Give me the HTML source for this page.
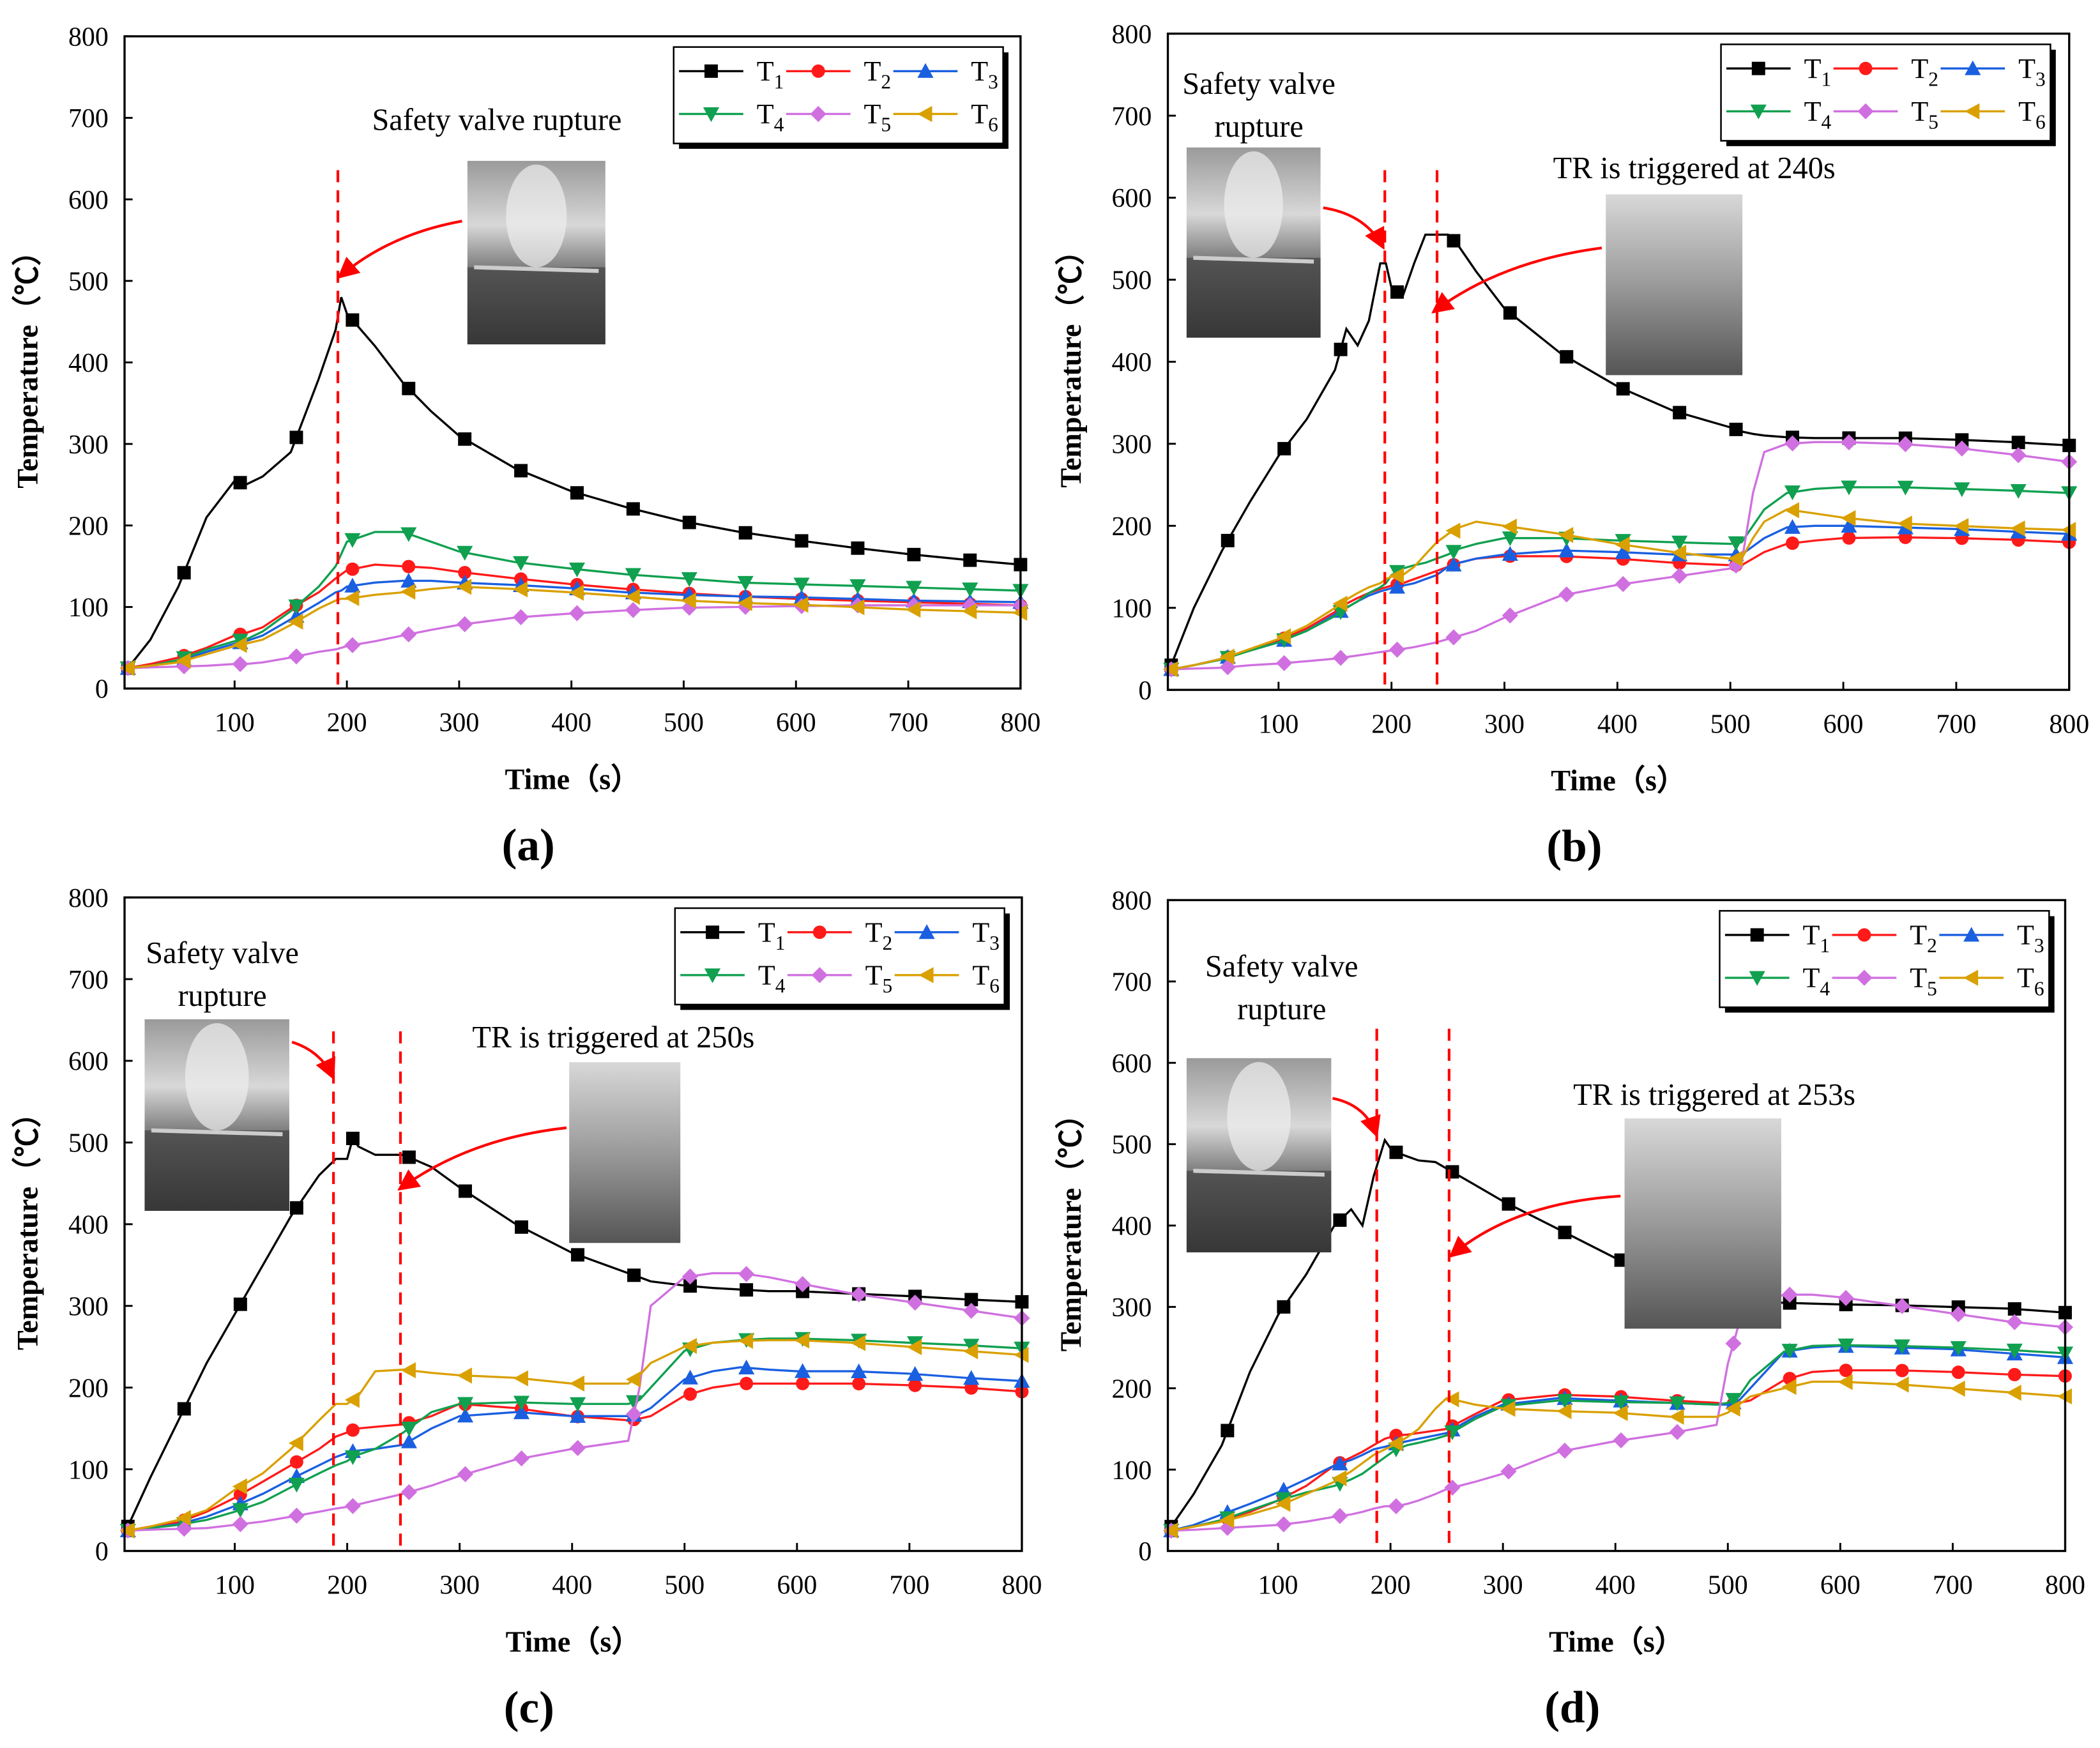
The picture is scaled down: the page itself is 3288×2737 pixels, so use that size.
<!DOCTYPE html>
<html><head><meta charset="utf-8"><style>
html,body{margin:0;padding:0;background:#fff}
svg{display:block}
text{font-family:"Liberation Serif",serif}
</style></head><body>
<svg id="fig" width="3288" height="2737" viewBox="0 0 1568 1305" xmlns="http://www.w3.org/2000/svg">
<defs>
<linearGradient id="smoke" x1="0" y1="0" x2="0" y2="1"><stop offset="0" stop-color="#9a9a9a"/><stop offset="0.35" stop-color="#d8d8d8"/><stop offset="0.6" stop-color="#777"/><stop offset="1" stop-color="#333"/></linearGradient>
<linearGradient id="fog" x1="0" y1="0" x2="0" y2="1"><stop offset="0" stop-color="#d8d8d8"/><stop offset="0.5" stop-color="#9a9a9a"/><stop offset="1" stop-color="#555"/></linearGradient>
<marker id="ah" viewBox="0 0 10 10" refX="9" refY="5" markerWidth="8" markerHeight="8" orient="auto"><path d="M0,0 L10,5 L0,10 z" fill="#f00"/></marker>
</defs>
</svg>
<script>
const colors=["#000","#ff1a1a","#1a5fe0","#10a050","#d070e0","#d9a000"];
const markerShapes=["sq","ci","tu","td","di","tl"];
// Panel a
const timesA=[5,25,50,75,100,110,125,150,175,190,195,200,225,250,275,300,350,400,450,500,550,600,650,700,750,800];
const a1=[25,60,125,210,255,250,260,290,380,440,480,460,420,375,340,310,270,242,222,205,192,182,173,165,158,152];
const a2=[25,30,38,50,65,68,75,98,118,135,140,145,152,150,148,143,135,128,122,117,113,110,108,106,104,102];
const a3=[25,28,33,45,55,58,65,85,105,118,120,125,130,132,132,130,127,123,118,115,113,112,110,108,107,106];
const a4=[25,28,35,48,58,60,70,95,125,150,165,180,192,192,180,168,155,147,140,135,130,128,126,124,122,120];
const a5=[25,26,27,28,30,30,32,38,45,48,50,52,58,65,72,78,87,92,96,99,100,101,102,102,102,102];
const a6=[25,28,32,42,52,55,60,78,98,108,110,110,115,118,122,125,122,118,113,108,105,103,100,97,95,93];
// Panel b
const timesB=[5,25,50,75,100,125,150,160,170,180,190,195,200,210,220,230,240,250,260,275,300,350,400,450,500,510,520,530,550,575,600,650,700,750,800];
const b1=[30,100,170,230,285,330,390,440,420,450,520,520,490,480,520,555,555,555,540,510,465,410,370,340,320,315,312,310,308,307,307,307,305,302,298];
const b2=[25,30,38,48,60,75,95,105,112,118,123,125,127,130,135,140,145,150,155,160,163,163,160,155,152,152,160,168,178,182,185,186,185,183,180];
const b3=[25,30,38,48,58,72,92,100,108,115,120,122,124,127,130,135,140,150,155,160,165,170,168,165,165,165,175,185,198,200,200,198,196,193,190];
const b4=[25,30,37,48,58,72,90,100,108,118,125,130,140,148,152,155,160,165,172,178,185,185,182,180,178,180,200,220,240,245,247,247,245,243,240];
const b5=[25,26,27,30,32,35,38,40,42,44,46,47,48,50,52,55,58,62,66,72,88,115,128,138,148,155,240,290,300,302,302,300,295,287,278];
const b6=[25,30,38,50,62,78,100,110,118,125,130,135,138,140,150,165,180,190,198,205,200,190,178,168,160,160,185,205,220,215,210,203,200,197,195];
// Panel c
const timesC=[5,25,50,75,100,125,150,175,190,200,205,210,225,250,275,300,350,400,450,460,470,500,525,550,575,600,650,700,750,800];
const c1=[30,90,160,230,290,350,410,460,480,480,505,495,485,485,470,445,400,365,340,335,330,325,322,320,318,318,315,312,308,305];
const c2=[25,30,35,48,65,85,105,125,140,145,148,150,152,155,165,180,175,165,160,162,165,190,200,205,205,205,205,203,200,195];
const c3=[25,28,33,42,55,70,88,105,115,120,122,123,125,130,150,165,170,165,165,168,175,210,220,225,222,220,220,217,212,208];
const c4=[25,28,32,38,48,60,78,95,105,110,115,118,125,145,170,180,182,180,180,185,200,245,255,258,260,260,258,255,252,248];
const c5=[25,26,27,28,32,36,42,48,52,54,55,57,62,70,80,92,112,125,135,200,300,335,340,340,335,328,315,305,295,285];
const c6=[25,30,38,50,75,95,125,160,180,180,185,190,220,222,218,215,212,205,205,215,230,250,255,257,258,258,255,250,245,240];
// Panel d
const timesD=[5,25,50,75,100,125,150,165,175,185,195,200,205,215,225,240,250,275,300,350,400,450,490,500,510,520,550,575,600,650,700,750,800];
const d1=[30,70,130,220,290,340,400,420,400,460,505,495,490,485,480,478,470,450,430,395,360,335,320,315,310,308,305,304,303,302,300,298,293];
const d2=[25,30,38,48,62,80,105,115,122,130,138,140,142,143,145,148,150,168,185,192,190,185,182,180,182,185,210,220,222,222,220,217,215];
const d3=[25,32,45,58,72,88,105,112,118,125,128,130,132,135,138,142,145,165,180,188,185,182,180,180,185,200,245,250,252,250,248,243,238];
const d4=[25,30,38,50,62,72,80,88,95,105,115,120,125,130,133,138,142,162,178,185,183,182,180,182,190,210,245,252,253,252,250,247,243];
const d5=[25,26,28,30,32,36,42,45,48,52,55,55,55,58,62,70,76,85,95,122,135,145,155,230,280,300,315,315,312,302,292,282,275];
const d6=[25,30,36,45,55,70,85,98,108,118,125,128,132,140,150,175,188,180,175,172,170,165,165,170,180,190,200,208,208,205,200,195,190];
const xTicks=[100,200,300,400,500,600,700,800];
const yTicks=[0,100,200,300,400,500,600,700,800];
const seriesNames=["1","2","3","4","5","6"];

const NS="http://www.w3.org/2000/svg";
const svg=document.getElementById('fig');
function mk(tag,attrs,parent){const e=document.createElementNS(NS,tag);for(const k in attrs)e.setAttribute(k,attrs[k]);(parent||svg).appendChild(e);return e;}
function interp(ts,vs,t){for(let i=1;i<ts.length;i++){if(t<=ts[i]){const f=(t-ts[i-1])/(ts[i]-ts[i-1]);return vs[i-1]+f*(vs[i]-vs[i-1]);}}return vs[vs.length-1];}
function marker(g,shape,x,y,c){
  const s=5;let e;
  if(shape==="sq")e=mk('rect',{x:x-s,y:y-s,width:2*s,height:2*s,fill:c},g);
  else if(shape==="ci")e=mk('circle',{cx:x,cy:y,r:s,fill:c},g);
  else if(shape==="tu")e=mk('polygon',{points:`${x},${y-6} ${x-6},${y+5} ${x+6},${y+5}`,fill:c},g);
  else if(shape==="td")e=mk('polygon',{points:`${x},${y+6} ${x-6},${y-5} ${x+6},${y-5}`,fill:c},g);
  else if(shape==="di")e=mk('polygon',{points:`${x},${y-6} ${x+6},${y} ${x},${y+6} ${x-6},${y}`,fill:c},g);
  else e=mk('polygon',{points:`${x-6},${y} ${x+5},${y-6} ${x+5},${y+6}`,fill:c},g);
  
  
}
function panel(cfg){
  const {id,L,R,T,B,times,series,label,lx,ly}=cfg;
  const g=mk('g',{});
  
  
  const xs=t=>L+(t-2)/(800-2)*(R-L);
  const ys=v=>B-v/800*(B-T);
  const cp=mk('clipPath',{id:'cp'+id},g);mk('rect',{x:L,y:T,width:R-L,height:B-T},cp);
  series.forEach((vals,k)=>{
    const d=times.map((t,i)=>(i?'L':'M')+xs(t).toFixed(1)+','+ys(vals[i]).toFixed(1)).join(' ');
    const p=mk('path',{d:d,fill:'none',stroke:colors[k],'stroke-width':1.6,'clip-path':`url(#cp${id})`},g);
    
    
    for(let t=5;t<=805;t+=50){const tt=Math.min(t,800);marker(g,markerShapes[k],xs(tt),ys(interp(times,vals,tt)),colors[k]);}
  });
  const f=mk('rect',{x:L,y:T,width:R-L,height:B-T,fill:'none',stroke:'#000','stroke-width':1.6},g);
  
  xTicks.forEach(t=>{const x=xs(t);mk('line',{x1:x,y1:B,x2:x,y2:B-6,stroke:'#000','stroke-width':1.4},g);
    const tx=mk('text',{x:x,y:B+32,'text-anchor':'middle','font-size':20},g);tx.textContent=t;
    });
  yTicks.forEach(v=>{const y=ys(v);mk('line',{x1:L,y1:y,x2:L+6,y2:y,stroke:'#000','stroke-width':1.4},g);
    const tx=mk('text',{x:L-12,y:y+7,'text-anchor':'end','font-size':20},g);tx.textContent=v;
    });
  const xt=mk('text',{x:(L+R)/2,y:B+75,'text-anchor':'middle','font-size':22,'font-weight':'bold'},g);
  xt.textContent='Time（s）';
  const yt=mk('text',{x:0,y:0,'text-anchor':'middle','font-size':22,'font-weight':'bold',transform:`translate(${L-65},${(T+B)/2}) rotate(-90)`},g);
  yt.textContent='Temperature（℃）';
  const pl=mk('text',{x:(L+R)/2-33,y:B+128,'text-anchor':'middle','font-size':34,'font-weight':'bold'},g);
  pl.textContent=label;
  const lg=mk('g',{},g);
  mk('rect',{x:lx+4,y:ly+4,width:246,height:72,fill:'#000'},lg);
  mk('rect',{x:lx,y:ly,width:246,height:72,fill:'#fff',stroke:'#000','stroke-width':1.2},lg);
  for(let k=0;k<6;k++){
    const col=k%3,row=Math.floor(k/3);const x0=lx+4+col*80,y0=ly+18+row*32;
    const en=mk('g',{},lg);
    mk('line',{x1:x0,y1:y0,x2:x0+48,y2:y0,stroke:colors[k],'stroke-width':1.6},en);
    marker(en,markerShapes[k],x0+24,y0,colors[k]);
    const tx=mk('text',{x:x0+58,y:y0+7,'font-size':21},en);tx.textContent='T';
    const sub=mk('tspan',{dy:6,'font-size':15},tx);sub.textContent=seriesNames[k];
  }
  return {g,xs,ys};
}
function vline(g,x,y1,y2){const l=mk('line',{x1:x,y1:y1,x2:x,y2:y2,stroke:'#f00','stroke-width':2,'stroke-dasharray':'9,6'},g);}
function arrow(g,d){const p=mk('path',{d:d,fill:'none',stroke:'#f00','stroke-width':2,'marker-end':'url(#ah)'},g);}
function photo(g,x,y,w,h,grad,name){const r=mk('rect',{x,y,width:w,height:h,fill:`url(#${grad})`},g);
 if(grad==='smoke'){mk('rect',{x:x,y:y+h*0.58,width:w,height:h*0.42,fill:'#3a3a3a',opacity:0.6},g);mk('line',{x1:x+5,y1:y+h*0.58,x2:x+w-5,y2:y+h*0.6,stroke:'#ccc','stroke-width':3},g);
 mk('ellipse',{cx:x+w*0.5,cy:y+h*0.3,rx:w*0.22,ry:h*0.28,fill:'#eee',opacity:0.7},g);}}
function txt(g,x,y,s,name){const t=mk('text',{x,y,'font-size':23,'text-anchor':'middle'},g);t.textContent=s;}

let P=panel({id:'a',L:93,R:762,T:27,B:514,times:timesA,series:[a1,a2,a3,a4,a5,a6],label:'(a)',lx:503,ly:35});
vline(P.g,P.xs(192),127,514);photo(P.g,349,120,103,137,'smoke','rupture-photo');
txt(P.g,371,97,'Safety valve rupture','rupture-annotation');arrow(P.g,'M345,165 Q290,175 253,207');

P=panel({id:'b',L:872,R:1545,T:25,B:515,times:timesB,series:[b1,b2,b3,b4,b5,b6],label:'(b)',lx:1285,ly:33});
vline(P.g,1034,127,515);vline(P.g,1073,127,515);photo(P.g,886,110,100,142,'smoke','rupture-photo');photo(P.g,1199,145,102,135,'fog','tr-photo');
txt(P.g,940,70,'Safety valve','rupture-annotation');txt(P.g,940,102,'rupture','rupture-annotation');txt(P.g,1265,133,'TR is triggered at 240s','tr-annotation');
arrow(P.g,'M988,155 Q1020,160 1033,185');arrow(P.g,'M1196,185 Q1120,195 1070,233');

P=panel({id:'c',L:93,R:763,T:670,B:1158,times:timesC,series:[c1,c2,c3,c4,c5,c6],label:'(c)',lx:504,ly:678});
vline(P.g,249,770,1158);vline(P.g,299,770,1158);photo(P.g,108,761,108,143,'smoke','rupture-photo');photo(P.g,425,793,83,135,'fog','tr-photo');
txt(P.g,166,719,'Safety valve','rupture-annotation');txt(P.g,166,751,'rupture','rupture-annotation');txt(P.g,458,782,'TR is triggered at 250s','tr-annotation');
arrow(P.g,'M218,778 Q240,785 249,805');arrow(P.g,'M423,842 Q350,850 298,888');

P=panel({id:'d',L:872,R:1542,T:672,B:1158,times:timesD,series:[d1,d2,d3,d4,d5,d6],label:'(d)',lx:1284,ly:680});
vline(P.g,1028,768,1158);vline(P.g,1082,768,1158);photo(P.g,886,790,108,145,'smoke','rupture-photo');photo(P.g,1213,835,117,157,'fog','tr-photo');
txt(P.g,957,729,'Safety valve','rupture-annotation');txt(P.g,957,761,'rupture','rupture-annotation');txt(P.g,1280,825,'TR is triggered at 253s','tr-annotation');
arrow(P.g,'M995,820 Q1020,825 1028,848');arrow(P.g,'M1210,893 Q1130,898 1083,938');
</script>
</body></html>
